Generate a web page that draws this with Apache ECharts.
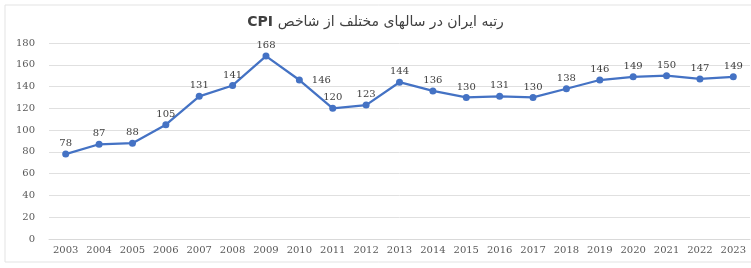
<!DOCTYPE html>
<html>
<head>
<meta charset="utf-8">
<script src="https://cdn.jsdelivr.net/npm/echarts@6/dist/echarts.min.js"></script>
<style>
  html, body { margin: 0; padding: 0; background: #fff; }
  #container { width: 751px; height: 268px; }
</style>
</head>
<body>
<div id="container"></div>
<script>
const years = ['2003', '2004', '2005', '2006', '2007', '2008', '2009', '2010', '2011', '2012', '2013',
  '2014', '2015', '2016', '2017', '2018', '2019', '2020', '2021', '2022', '2023'];
const ranks = [78, 87, 88, 105, 131, 141, 168, 146, 120, 123, 144, 136, 130, 131, 130, 138, 146, 149, 150, 147, 149];
// title is "رتبه ایران در سالهای مختلف از شاخص CPI"; the Latin part is drawn as its own piece
// so it sits on the left of the right-to-left sentence, like the original
const titleFa = 'رتبه ایران در سالهای مختلف از شاخص';
const titleEn = 'CPI';

const labelFont = '"DejaVu Serif", serif';
const titleFont = '"DejaVu Sans", sans-serif';

const chart = echarts.init(document.getElementById('container'), null, { renderer: 'canvas' });

// 2010 label sits to the right of its point
const seriesData = ranks.map(function (v, i) {
  if (years[i] === '2010') {
    return { value: v, label: { position: 'right', distance: 9 } };
  }
  return v;
});

chart.setOption({
  backgroundColor: '#fff',
  animation: false,
  title: {
    text: '{en|' + titleEn + ' }{fa|' + titleFa + '}',
    left: 'center',
    top: 10,
    textStyle: {
      fontFamily: titleFont, fontSize: 14, fontWeight: 'normal', color: '#404040',
      rich: {
        en: { fontFamily: titleFont, fontSize: 14, fontWeight: 'bold', color: '#404040' },
        fa: { fontFamily: titleFont, fontSize: 14, fontWeight: 'normal', color: '#404040' }
      }
    }
  },
  graphic: [{
    type: 'rect',
    shape: { x: 5, y: 5, width: 760, height: 257 },
    style: { fill: 'none', stroke: '#e3e3e3', lineWidth: 1 },
    silent: true
  }],
  grid: { left: 49, right: 1, top: 43, bottom: 29 },
  xAxis: {
    type: 'category',
    data: years,
    boundaryGap: true,
    axisLine: { lineStyle: { color: '#d9d9d9' } },
    axisTick: { show: false },
    axisLabel: { color: '#595959', fontSize: 10, fontFamily: labelFont, margin: 6, interval: 0 }
  },
  yAxis: {
    type: 'value',
    min: 0,
    max: 180,
    interval: 20,
    axisLine: { show: false },
    axisTick: { show: false },
    splitLine: { lineStyle: { color: '#e0e0e0' } },
    axisLabel: { color: '#595959', fontSize: 10, fontFamily: labelFont, margin: 14 }
  },
  series: [{
    type: 'line',
    data: seriesData,
    symbol: 'circle',
    symbolSize: 7,
    lineStyle: { color: '#4472C4', width: 2.25 },
    itemStyle: { color: '#4472C4' },
    label: {
      show: true,
      position: 'top',
      distance: 2,
      color: '#404040',
      fontSize: 10,
      fontFamily: labelFont
    }
  }]
});
</script>
</body>
</html>
